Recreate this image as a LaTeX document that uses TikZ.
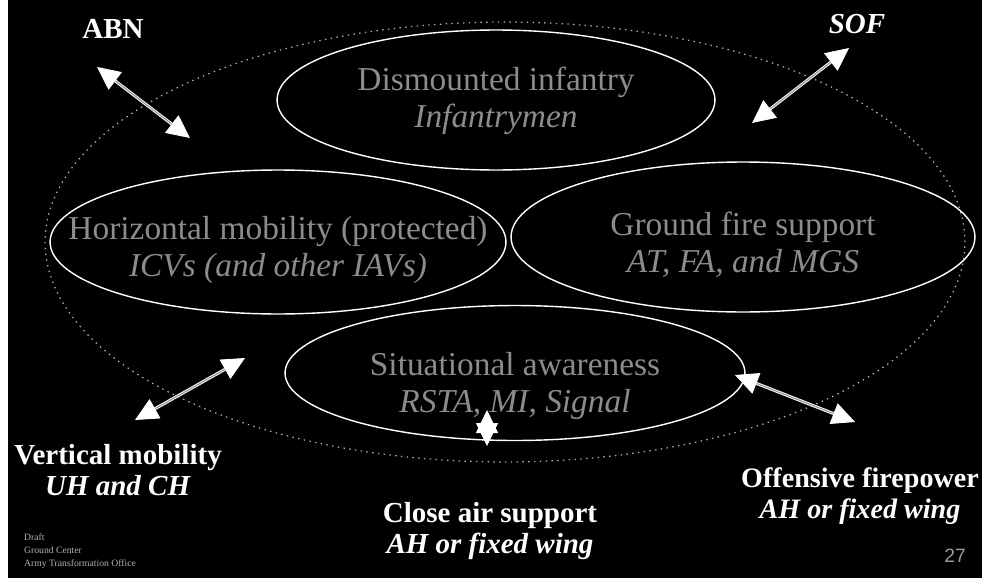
\documentclass[tikz,border=0pt]{standalone}
\usepackage{fontspec}
\setmainfont{Liberation Serif}
\setsansfont{Liberation Sans}
\usetikzlibrary{arrows.meta,shapes.geometric}

\begin{document}
\begin{tikzpicture}[
  x=0.02cm, y=-0.02cm,
  rim/.style={ellipse, draw=white!70!black, line width=0.7pt, dash pattern=on 0.8pt off 2.5pt, inner sep=0pt},
  role/.style={ellipse, draw=white, line width=0.8pt, inner sep=0pt},
  roletext/.style={text=white!55!black, align=center, font=\fontsize{19}{21}\selectfont},
  tag/.style={text=white, align=center, font=\fontsize{16.5}{17.5}\selectfont\bfseries},
  link/.style={{Triangle[length=4.6mm,width=4.4mm]}-{Triangle[length=4.6mm,width=4.4mm]}, draw=white, double=white!60!black, double distance=0.7pt, line width=0.5pt}
]
\useasboundingbox (0,0) rectangle (982,578);
\fill[black] (0,0) rectangle (982,578);
\fill[white] (0,0) rectangle (8,578);

% Outer rim and the four roles.
\node[rim, minimum width=18.4cm, minimum height=8.8cm] (rim) at (505,242) {};
\node[role, minimum width=8.76cm, minimum height=2.8cm] (dism) at (496,100) {};
\node[role, minimum width=9.12cm, minimum height=2.88cm] (horiz) at (278,242) {};
\node[role, minimum width=9.28cm, minimum height=3.0cm] (ground) at (743,237) {};
\node[role, minimum width=9.2cm, minimum height=2.7cm] (sit) at (515,373) {};

\node[roletext] (dismtext) at (496,101) {Dismounted infantry\\\textit{Infantrymen}};
\node[roletext] (horiztext) at (278,250) {Horizontal mobility (protected)\\\textit{ICVs (and other IAVs)}};
\node[roletext] (groundtext) at (743,245) {Ground fire support\\\textit{AT, FA, and MGS}};
\node[roletext] (sittext) at (515,386) {Situational awareness\\\textit{RSTA, MI, Signal}};

% Outside forces.
\node[tag] (abn) at (113,29) {ABN};
\node[tag] (sof) at (857,24) {\textit{SOF}};
\node[tag] (vert) at (118,470) {Vertical mobility\\\textit{UH and CH}};
\node[tag] (cas) at (490,531) {Close air support\\\textit{AH or fixed wing}};
\node[tag, font=\fontsize{16}{17.5}\selectfont\bfseries] (off) at (860,496) {Offensive firepower\\\textit{AH or fixed wing}};

\coordinate (abnend) at (97,67);
\coordinate (abnin) at (190,138);
\coordinate (sofend) at (849,48);
\coordinate (sofin) at (752,123);
\coordinate (vertend) at (135,420);
\coordinate (vertin) at (245,358);
\coordinate (casin) at (487,410);
\coordinate (casend) at (487,446);
\coordinate (offin) at (735,375);
\coordinate (offend) at (855,422);

\draw[link] (abnend) -- (abnin);
\draw[link] (sofend) -- (sofin);
\draw[link] (vertend) -- (vertin);
\draw[link] (casin) -- (casend);
\draw[link] (offin) -- (offend);

% Slide footer.
\node[text=white!70!black, align=left, anchor=south west, font=\fontsize{5.5}{7.5}\selectfont] (foot) at (18,575) {Draft\\Ground Center\\Army Transformation Office};
\node[text=white!60!black, font=\sffamily\fontsize{11}{11}\selectfont] (page) at (955,556) {27};
\end{tikzpicture}
\end{document}
